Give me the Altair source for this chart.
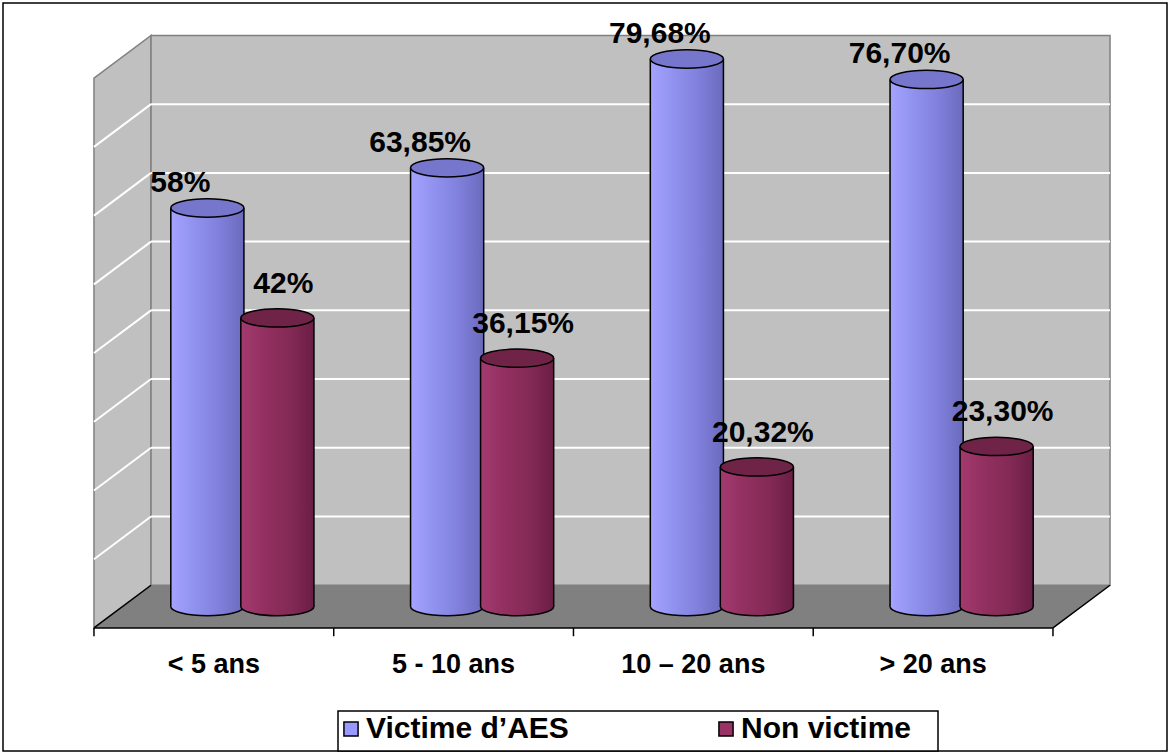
import altair as alt
import pandas as pd

# ---- chart values -------------------------------------------------------
categories = ["< 5 ans", "5 - 10 ans", "10 – 20 ans", "> 20 ans"]
series = ["Victime d’AES", "Non victime"]
victime = [58, 63.85, 79.68, 76.70]
non_victime = [42, 36.15, 20.32, 23.30]

Y_MAX = 80
GRID_STEP = 10

# ---- 3-D box geometry (category units on x, percent units on y) ---------
DX = 0.119      # half depth, horizontal shift
DY = 3.11       # half depth, vertical shift
BAR_W = 0.305   # cylinder diameter
BAR_OFF = 0.146 # cylinder centre offset from category centre
N = len(categories)

FONT = "Liberation Sans"
WALL = "#C0C0C0"
FLOOR = "#808080"
EDGE = "#808080"

xs = alt.Scale(domain=[0, N], range=[122.5, 1081.5], nice=False, zero=False)
ys = alt.Scale(domain=[0, Y_MAX], range=[606.6, 56.8], nice=False, zero=False)


def X(field, **kw):
    return alt.X(field, type="quantitative", scale=xs, axis=None, **kw)


def Y(field, **kw):
    return alt.Y(field, type="quantitative", scale=ys, axis=None, **kw)


def fmt(v):
    if float(v).is_integer():
        return f"{int(v)}%"
    return f"{v:.2f}".replace(".", ",") + "%"


# ---- walls, floor and grid ---------------------------------------------
side_wall = pd.DataFrame({"x": [-DX, DX], "y": [-DY, DY], "y2": [Y_MAX - DY, Y_MAX + DY]})
back_wall = pd.DataFrame({"x": [DX], "x2": [N + DX], "y": [DY], "y2": [Y_MAX + DY]})
floor = pd.DataFrame({"y": [-DY, DY], "x": [-DX, DX], "x2": [N - DX, N + DX]})
grid_vals = list(range(GRID_STEP, Y_MAX, GRID_STEP))
back_grid = pd.DataFrame({"x": DX, "x2": N + DX, "y": [g + DY for g in grid_vals]})
side_grid = pd.DataFrame({"x": -DX, "x2": DX,
                          "y": [g - DY for g in grid_vals],
                          "y2": [g + DY for g in grid_vals]})
floor_edges = pd.DataFrame({
    "x": [-DX, -DX, N - DX],
    "x2": [N - DX, DX, N + DX],
    "y": [-DY, -DY, -DY],
    "y2": [-DY, DY, DY],
})
ticks = pd.DataFrame({"x": [i - DX for i in range(N + 1)], "y": -DY, "y2": -DY - 1.2})
cat_labels = pd.DataFrame({"x": [i + 0.5 - DX for i in range(N)], "y": -DY - 5.4,
                           "label": categories})

layers = [
    alt.Chart(side_wall).mark_area(orient="vertical", fill=WALL, stroke=EDGE, strokeWidth=1.5)
    .encode(x=X("x"), y=Y("y"), y2="y2"),
    alt.Chart(back_wall).mark_rect(fill=WALL, stroke=EDGE, strokeWidth=1.5)
    .encode(x=X("x"), x2="x2", y=Y("y"), y2="y2"),
    alt.Chart(back_grid).mark_rule(color="white", strokeWidth=2)
    .encode(x=X("x"), x2="x2", y=Y("y")),
    alt.Chart(side_grid).mark_rule(color="white", strokeWidth=2)
    .encode(x=X("x"), x2="x2", y=Y("y"), y2="y2"),
    alt.Chart(floor).mark_area(orient="horizontal", fill=FLOOR)
    .encode(y=Y("y"), x=X("x"), x2="x2"),
    alt.Chart(floor_edges).mark_rule(color="black", strokeWidth=1.5)
    .encode(x=X("x"), x2="x2", y=Y("y"), y2="y2"),
    alt.Chart(ticks).mark_rule(color="black", strokeWidth=1.5)
    .encode(x=X("x"), y=Y("y"), y2="y2"),
    alt.Chart(cat_labels).mark_text(font=FONT, fontWeight="bold", fontSize=27,
                                    baseline="middle", align="center")
    .encode(x=X("x"), y=Y("y"), text="label:N"),
]

# ---- cylinders -----------------------------------------------------------
ELLIPSE = "M-1,0 A1,0.25 0 1,0 1,0 A1,0.25 0 1,0 -1,0 Z"
ELLIPSE_SIZE = (BAR_W * 239.75) ** 2

styles = {
    series[0]: dict(values=victime, off=-BAR_OFF,
                    stops=["#A4A4FF", "#9090EE", "#8080DC", "#6A6ABC"],
                    top="#7676CC", dx=-27, dy=-25),
    series[1]: dict(values=non_victime, off=BAR_OFF,
                    stops=["#A43A70", "#92305F", "#842A56", "#6A1E44"],
                    top="#6F2347", dx=6, dy=-34),
}

for name, st in styles.items():
    df = pd.DataFrame({
        "i": list(range(N)),
        "value": st["values"],
        "label": [fmt(v) for v in st["values"]],
    })
    grad = alt.LinearGradient(
        gradient="linear", x1=0, x2=1, y1=0, y2=0,
        stops=[alt.GradientStop(offset=k / (len(st["stops"]) - 1), color=c)
               for k, c in enumerate(st["stops"])],
    )
    base = alt.Chart(df).transform_calculate(
        c=f"datum.i + 0.5 + ({st['off']})",
        l=f"datum.i + 0.5 + ({st['off']}) - {BAR_W / 2}",
        r=f"datum.i + 0.5 + ({st['off']}) + {BAR_W / 2}",
        zero="0",
    )
    layers += [
        base.mark_point(shape=ELLIPSE, size=ELLIPSE_SIZE, filled=True, fill=grad,
                        stroke="black", strokeWidth=1.5, opacity=1)
        .encode(x=X("c"), y=Y("zero")),
        base.mark_rect(fill=grad)
        .encode(x=X("l"), x2="r", y=Y("zero"), y2="value"),
        base.transform_fold(["l", "r"], as_=["side", "edge"])
        .mark_rule(color="black", strokeWidth=1.5)
        .encode(x=X("edge"), y=Y("zero"), y2="value"),
        base.mark_point(shape=ELLIPSE, size=ELLIPSE_SIZE, filled=True, fill=st["top"],
                        stroke="black", strokeWidth=1.5, opacity=1)
        .encode(x=X("c"), y=Y("value")),
    ]

for name, st in styles.items():
    df = pd.DataFrame({
        "i": list(range(N)),
        "value": st["values"],
        "label": [fmt(v) for v in st["values"]],
    })
    layers.append(
        alt.Chart(df).transform_calculate(c=f"datum.i + 0.5 + ({st['off']})")
        .mark_text(font=FONT, fontWeight="bold", fontSize=30, align="center",
                   baseline="middle", dx=st["dx"], dy=st["dy"], color="black")
        .encode(x=X("c"), y=Y("value"), text="label:N")
    )

# ---- frames and legend ---------------------------------------------------
one = pd.DataFrame({"k": [0]})
layers += [
    alt.Chart(one).mark_rect(fill=None, stroke="black", strokeWidth=1.5)
    .encode(x=alt.value(3), x2=alt.value(1167), y=alt.value(3), y2=alt.value(751)),
    alt.Chart(one).mark_rect(fill="white", stroke="black", strokeWidth=1.5)
    .encode(x=alt.value(338), x2=alt.value(938), y=alt.value(711), y2=alt.value(751)),
]

legend_df = pd.DataFrame({"series": series, "x": [0, 0], "y": [0, 0]})
layers.append(
    alt.Chart(legend_df).mark_point(filled=True, size=0, opacity=1)
    .encode(
        x=X("x"), y=Y("y"),
        color=alt.Color(
            "series:N",
            scale=alt.Scale(domain=series, range=["#9999FF", "#993366"]),
            legend=alt.Legend(
                title=None, orient="none", direction="horizontal",
                legendX=336, legendY=714,
                symbolType="square", symbolSize=200, symbolStrokeColor="black",
                symbolStrokeWidth=1.5, symbolOpacity=1,
                labelFont=FONT, labelFontWeight="bold", labelFontSize=30,
                labelColor="black", labelOffset=0, columnPadding=142,
                labelLimit=400,
            ),
        ),
    )
)

chart = (
    alt.layer(*layers)
    .properties(width=1174, height=754, padding=0, autosize=alt.AutoSizeParams(type="none"),
                background="white")
    .configure_view(stroke=None)
)

chart.save("out.html", embed_options={"renderer": "svg", "actions": False})
